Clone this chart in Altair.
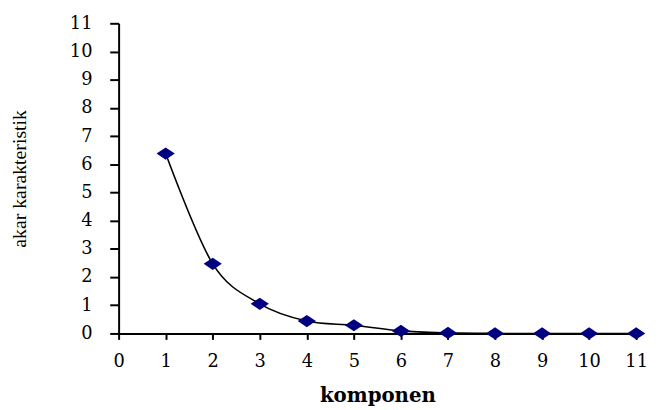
import altair as alt
import pandas as pd

komponen = [1, 2, 3, 4, 5, 6, 7, 8, 9, 10, 11]
akar = [6.38, 2.47, 1.05, 0.44, 0.29, 0.09, 0.02, 0.0, 0.0, 0.0, 0.0]

df = pd.DataFrame({"komponen": komponen, "akar": akar})

x_ticks = list(range(0, 12))
y_ticks = list(range(0, 12))

x = alt.X(
    "komponen:Q",
    scale=alt.Scale(domain=[0, 11], nice=False, zero=False),
    axis=alt.Axis(
        values=x_ticks, title="komponen", grid=False,
        domainColor="black", domainWidth=2, tickColor="black", tickWidth=2, tickSize=6,
        labelFont="DejaVu Serif", labelFontSize=18, labelColor="black", labelPadding=13,
        titleFont="DejaVu Serif", titleFontSize=20, titleFontWeight="bold", titleColor="black",
        titlePadding=16, labelFlush=False,
    ),
)
y = alt.Y(
    "akar:Q",
    scale=alt.Scale(domain=[0, 11], nice=False),
    axis=alt.Axis(
        values=y_ticks, title="akar karakteristik", grid=False,
        domainColor="black", domainWidth=2, tickColor="black", tickWidth=2, tickSize=9,
        labelFont="DejaVu Serif", labelFontSize=18, labelColor="black", labelPadding=18,
        titleFont="Liberation Serif", titleFontSize=20, titleFontWeight="normal", titleColor="black",
        titlePadding=40, labelFlush=False,
    ),
)

line = alt.Chart(df).mark_line(color="black", strokeWidth=1.6, interpolate="cardinal").encode(x=x, y=y)
pts = alt.Chart(df).mark_point(
    shape="M-1,0L0,-0.67L1,0L0,0.67Z", size=340, filled=True, color="#000080", opacity=1
).encode(x=x, y=y)

chart = (
    alt.layer(line, pts)
    .properties(
        width=524, height=314,
        autosize=alt.AutoSizeParams(type="none"),
        padding={"left": 112, "top": 13, "right": 14, "bottom": 74},
        background="white",
    )
    .configure_view(stroke=None)
)

chart.save("out.html", embed_options={"renderer": "svg", "actions": False})
